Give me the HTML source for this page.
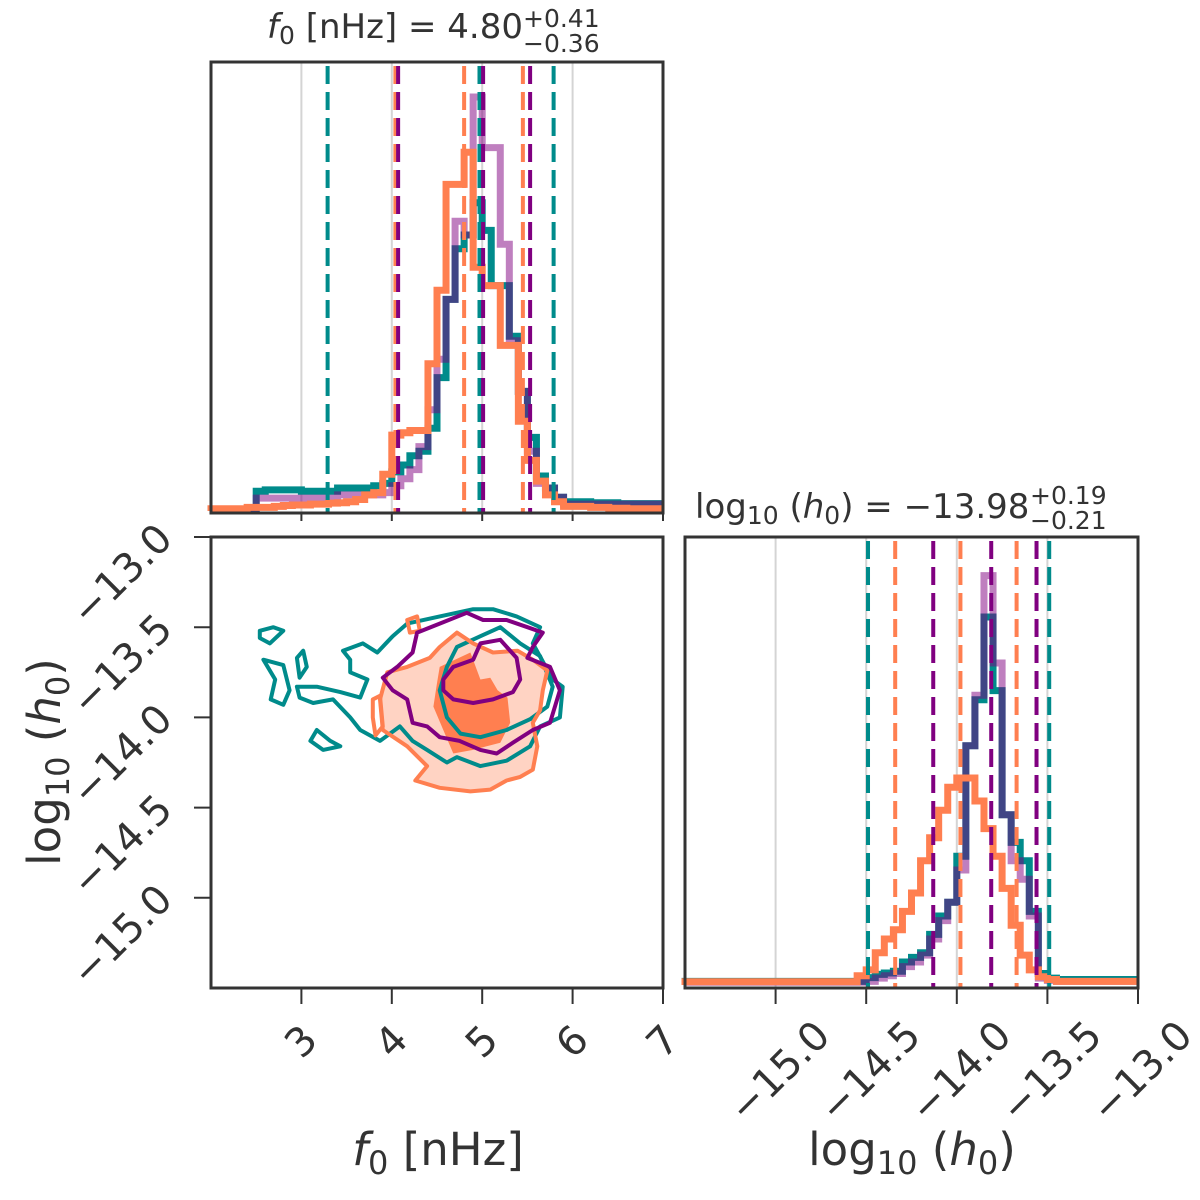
<!DOCTYPE html>
<html><head><meta charset="utf-8"><style>
html,body{margin:0;padding:0;background:#fff;}
svg{display:block;font-family:"DejaVu Sans","Liberation Sans",sans-serif;}
</style></head><body>
<svg id="chart" width="1200" height="1200" viewBox="0 0 1200 1200" xmlns="http://www.w3.org/2000/svg">
<rect x="0" y="0" width="1200" height="1200" fill="#fff"/>
<g id="g-top"></g>
<g id="g-left"></g>
<g id="g-right"></g>
<text x="267" y="38" font-size="34" fill="#333"><tspan font-style="italic">f</tspan><tspan font-size="25" dy="6">0</tspan><tspan dy="-6"> [nHz] = 4.80</tspan></text>
<text x="523" y="27" font-size="25" fill="#333">+0.41</text>
<text x="523" y="52" font-size="25" fill="#333">−0.36</text>
<text x="695" y="518" font-size="34" fill="#333">log<tspan font-size="25" dy="6">10</tspan><tspan dy="-6"> (</tspan><tspan font-style="italic">h</tspan><tspan font-size="25" dy="6">0</tspan><tspan dy="-6">) = −13.98</tspan></text>
<text x="1030" y="504" font-size="25" fill="#333">+0.19</text>
<text x="1030" y="529" font-size="25" fill="#333">−0.21</text>
<text x="438" y="1165" font-size="45" fill="#333" text-anchor="middle"><tspan font-style="italic">f</tspan><tspan font-size="32" dy="9">0</tspan><tspan dy="-9"> [nHz]</tspan></text>
<text x="912" y="1165" font-size="45" fill="#333" text-anchor="middle">log<tspan font-size="32" dy="9">10</tspan><tspan dy="-9"> (</tspan><tspan font-style="italic">h</tspan><tspan font-size="32" dy="9">0</tspan><tspan dy="-9">)</tspan></text>
<text transform="translate(60,762) rotate(-90)" font-size="45" fill="#333" text-anchor="middle">log<tspan font-size="32" dy="9">10</tspan><tspan dy="-9"> (</tspan><tspan font-style="italic">h</tspan><tspan font-size="32" dy="9">0</tspan><tspan dy="-9">)</tspan></text>
</svg>
<script>
// ---------- data ----------
const f0Ticks = [3,4,5,6,7];
const h0Ticks = [-15.0,-14.5,-14.0,-13.5,-13.0];
const h0TickLabels = ["−15.0","−14.5","−14.0","−13.5","−13.0"];
const f0BinStart = 2, f0BinWidth = 0.1;
const h0BinStart = -15.5, h0BinWidth = 0.05;
const f0HistTeal = [0.3,0.3,0.3,0.3,0.3,4.3,4.6,4.6,4.6,4.6,4.3,4.3,4.3,4.3,5,5,5,5,5.5,6,8.5,10,12,13,18,29,46,57,60,67,61,49,49,38,26,16,7.6,5,3,2,2,2,1.8,1.8,1.8,1.6,1.6,1.6,1.6,1.6];
const f0HistPurple = [0.2,0.2,0.2,0.2,0.2,2.8,2.8,2.8,2.8,2.8,2.8,2.8,2.8,2.8,3.5,3.5,3.5,3.5,3.5,4,5.5,7,9,14,22,33,46,63,60,90,79,79,58,37,26,13,6,5,3,1.5,1.5,1.5,1.5,1.5,1.5,1.5,1.5,1.5,1.5,1.5];
const f0HistOrange = [0.5,0.5,0.5,0.5,0.8,0.8,0.8,1,1.2,1.3,1.3,1.5,1.5,1.7,1.8,2,2.5,3.5,4,8,16.5,17,17.5,17.5,32,48,71,71,78,53,49,49,36,36,19.5,11,6.5,3.5,2,1,1,1,0.8,0.8,0.6,0.6,0.5,0.5,0.5,0.5];
const h0HistTeal = [0.8,0.8,0.8,0.8,0.8,0.8,0.8,0.8,0.8,0.8,0.8,0.8,0.8,0.8,0.8,0.8,0.8,0.8,0.8,0.8,1.6,2.3,2.6,3,5,6,7,11,15,18,28,52,62,80,64,37,31,27,16,2.5,1.5,1.2,1.2,1.2,1.2,1.2,1.2,1.2,1.2,1.2];
const h0HistPurple = [0.6,0.6,0.6,0.6,0.6,0.6,0.6,0.6,0.6,0.6,0.6,0.6,0.6,0.6,0.6,0.6,0.6,0.6,0.6,0.6,0.8,1.5,2,2.5,4,5,6.5,10,14,18,25,52,63,89,70,37,27,23,15,1.5,1,0.8,0.8,0.8,0.8,0.8,0.8,0.8,0.8,0.8];
const h0HistOrange = [0.7,0.7,0.7,0.7,0.7,0.7,0.7,0.7,0.7,0.7,0.7,0.7,0.7,0.7,0.7,0.7,0.7,0.7,0.7,2,3.3,7,10,12,16,20,27,32,38,43,45,45,40,34,28,21,13,6.5,3.3,1.8,1.2,0.8,0.8,0.8,0.8,0.8,0.8,0.8,0.8,0.8];
const f0QuantTeal = [3.29,4.97,5.79];
const f0QuantPurple = [4.07,5.01,5.53];
const f0QuantOrange = [4.04,4.80,5.45];
const h0QuantTeal = [-14.49,-13.49];
const h0QuantPurple = [-14.13,-13.81,-13.56];
const h0QuantOrange = [-14.34,-13.98,-13.67];
// contours [f0, log10h0]
const tealMain = [[3.46,-13.63],[3.68,-13.59],[3.84,-13.64],[4.01,-13.55],[4.17,-13.48],[4.53,-13.44],[4.90,-13.40],[5.12,-13.40],[5.38,-13.44],[5.64,-13.50],[5.56,-13.59],[5.78,-13.79],[5.89,-13.83],[5.86,-14.00],[5.64,-14.05],[5.53,-14.16],[5.27,-14.24],[4.98,-14.27],[4.72,-14.22],[4.61,-14.25],[4.39,-14.18],[4.23,-14.13],[4.09,-14.05],[3.87,-14.13],[3.65,-14.07],[3.54,-14.00],[3.35,-13.90],[3.13,-13.92],[2.98,-13.89],[2.95,-13.83],[3.17,-13.83],[3.43,-13.86],[3.65,-13.89],[3.73,-13.79],[3.54,-13.75],[3.54,-13.68]];
const tealInner = [[4.72,-13.61],[4.98,-13.55],[5.20,-13.50],[5.42,-13.59],[5.64,-13.66],[5.78,-13.83],[5.72,-13.94],[5.53,-14.01],[5.27,-14.07],[4.98,-14.11],[4.76,-14.09],[4.61,-14.00],[4.53,-13.85],[4.61,-13.72]];
const tealIsland1 = [[2.54,-13.52],[2.69,-13.50],[2.80,-13.52],[2.65,-13.59],[2.54,-13.56]];
const tealIsland2 = [[2.58,-13.68],[2.80,-13.71],[2.87,-13.85],[2.80,-13.93],[2.66,-13.90],[2.71,-13.79]];
const tealIsland3 = [[2.95,-13.67],[3.02,-13.63],[3.06,-13.72],[2.98,-13.78]];
const tealIsland4 = [[3.17,-14.07],[3.32,-14.13],[3.43,-14.16],[3.24,-14.18],[3.10,-14.13]];
const purpleOuter = [[3.90,-13.78],[4.06,-13.72],[4.23,-13.64],[4.28,-13.53],[4.53,-13.48],[4.83,-13.42],[5.01,-13.46],[5.27,-13.46],[5.50,-13.50],[5.67,-13.53],[5.56,-13.61],[5.50,-13.67],[5.75,-13.72],[5.86,-13.85],[5.75,-14.03],[5.56,-14.07],[5.34,-14.14],[5.16,-14.20],[4.98,-14.18],[4.75,-14.13],[4.53,-14.11],[4.39,-14.05],[4.23,-14.03],[4.17,-13.90],[4.01,-13.85]];
const purpleInner = [[4.57,-13.79],[4.68,-13.72],[4.90,-13.68],[4.98,-13.59],[5.20,-13.57],[5.38,-13.67],[5.42,-13.79],[5.34,-13.86],[5.12,-13.90],[4.90,-13.92],[4.68,-13.90],[4.57,-13.85]];
const orangeOuter = [[4.72,-13.53],[4.90,-13.59],[5.12,-13.64],[5.39,-13.63],[5.56,-13.68],[5.72,-13.74],[5.67,-13.85],[5.64,-13.96],[5.56,-14.03],[5.61,-14.16],[5.56,-14.29],[5.42,-14.33],[5.27,-14.35],[5.09,-14.40],[4.87,-14.41],[4.53,-14.39],[4.26,-14.35],[4.39,-14.27],[4.17,-14.16],[3.90,-14.07],[3.87,-13.90],[3.95,-13.75],[4.17,-13.72],[4.42,-13.67],[4.53,-13.61]];
const orangeCore = [[4.53,-13.72],[4.87,-13.64],[4.98,-13.79],[5.09,-13.78],[5.17,-13.85],[5.28,-13.89],[5.31,-14.03],[5.20,-14.14],[5.05,-14.16],[4.90,-14.18],[4.68,-14.20],[4.57,-14.07],[4.46,-13.94],[4.50,-13.81]];
const orangeIsland1 = [[4.17,-13.46],[4.28,-13.44],[4.31,-13.52],[4.20,-13.53]];
const orangeIsland2 = [[3.79,-13.90],[3.87,-13.88],[3.90,-14.05],[3.82,-14.10],[3.79,-14.00]];

// ---------- layout ----------
const NS = "http://www.w3.org/2000/svg";
const TEAL="#008b8b", PURPLE="#800080", ORANGE="#ff7f50", INK="#333333";
const P = {
  top:{x0:211,x1:663,y0:62,y1:513},
  left:{x0:211,x1:663,y0:537,y1:988},
  right:{x0:685,x1:1138,y0:537,y1:988}
};
function fx(v){ return P.left.x0 + (v-2)/5*(P.left.x1-P.left.x0); }
function hx(v){ return P.right.x0 + (v+15.5)/2.5*(P.right.x1-P.right.x0); }
function hy(v){ return P.left.y0 + (-13-v)/2.5*(P.left.y1-P.left.y0); }
function topY(v){ return 511 - v*4.6; }
function rightY(v){ return 985 - v*4.6; }

function mk(parent, tag, attrs){
  const e = document.createElementNS(NS, tag);
  for (const k in attrs) e.setAttribute(k, attrs[k]);
  parent.appendChild(e);
  return e;
}
const gTop = document.getElementById('g-top');
const gLeft = document.getElementById('g-left');
const gRight = document.getElementById('g-right');

function grid(g, xs, y0, y1){
  xs.forEach(x=>{
    const l = mk(g,'line',{x1:x,x2:x,y1:y0,y2:y1,stroke:'#d4d4d4','stroke-width':2});
    
    
  });
}
grid(gTop, [3,4,5,6].map(fx), P.top.y0, P.top.y1);
grid(gRight, [-15,-14.5,-14,-13.5].map(hx), P.right.y0, P.right.y1);

function hist(g, vals, start, w, xf, yf, base, color, op, name){
  let d = `M${xf(start)},${base}`;
  vals.forEach((v,i)=>{
    const a = xf(start+i*w), b = xf(start+(i+1)*w), y = yf(v);
    d += ` L${a},${y} L${b},${y}`;
  });
  const p = mk(g,'path',{d:d,fill:'none',stroke:color,'stroke-width':7,'stroke-opacity':op,'stroke-linejoin':'miter'});
  
  
}
function qlines(g, vals, xf, y0, y1, color, name){
  vals.forEach(v=>{
    const x = xf(v);
    const l = mk(g,'line',{x1:x,x2:x,y1:y0,y2:y1,stroke:color,'stroke-width':4,'stroke-dasharray':'18 8'});
    
    
  });
}
// top panel
hist(gTop, f0HistTeal, f0BinStart, f0BinWidth, fx, topY, 511, TEAL, 1, 'f0-hist-teal');
hist(gTop, f0HistPurple, f0BinStart, f0BinWidth, fx, topY, 511, PURPLE, 0.5, 'f0-hist-purple');
hist(gTop, f0HistOrange, f0BinStart, f0BinWidth, fx, topY, 511, ORANGE, 1, 'f0-hist-orange');
qlines(gTop, f0QuantTeal, fx, P.top.y0+4, P.top.y1, TEAL, 'f0-quantile-teal');
qlines(gTop, f0QuantOrange, fx, P.top.y0+4, P.top.y1, ORANGE, 'f0-quantile-orange');
qlines(gTop, f0QuantPurple, fx, P.top.y0+4, P.top.y1, PURPLE, 'f0-quantile-purple');
// right panel
hist(gRight, h0HistTeal, h0BinStart, h0BinWidth, hx, rightY, 985, TEAL, 1, 'h0-hist-teal');
hist(gRight, h0HistPurple, h0BinStart, h0BinWidth, hx, rightY, 985, PURPLE, 0.5, 'h0-hist-purple');
hist(gRight, h0HistOrange, h0BinStart, h0BinWidth, hx, rightY, 985, ORANGE, 1, 'h0-hist-orange');
qlines(gRight, h0QuantTeal, hx, P.right.y0+4, P.right.y1, TEAL, 'h0-quantile-teal');
qlines(gRight, h0QuantOrange, hx, P.right.y0+4, P.right.y1, ORANGE, 'h0-quantile-orange');
qlines(gRight, h0QuantPurple, hx, P.right.y0+4, P.right.y1, PURPLE, 'h0-quantile-purple');

// contours
function poly(pts, attrs, name){
  const d = pts.map((p,i)=>(i?'L':'M')+fx(p[0]).toFixed(1)+','+hy(p[1]).toFixed(1)).join(' ')+' Z';
  const e = mk(gLeft,'path',Object.assign({d:d,'stroke-linejoin':'round'},attrs));
  
  
}
poly(orangeOuter,{fill:'#ffd3c3',stroke:'none'},'orange-contour-fill-outer');
poly(orangeCore,{fill:ORANGE,stroke:'none'},'orange-contour-fill-core');
[tealMain,tealInner,tealIsland1,tealIsland2,tealIsland3,tealIsland4].forEach(c=>poly(c,{fill:'none',stroke:TEAL,'stroke-width':4},'teal-contour'));
poly(orangeOuter,{fill:'none',stroke:ORANGE,'stroke-width':4},'orange-contour-outer');
poly(orangeIsland1,{fill:'none',stroke:ORANGE,'stroke-width':4},'orange-contour-island');
poly(orangeIsland2,{fill:'none',stroke:ORANGE,'stroke-width':4},'orange-contour-island');
[purpleOuter,purpleInner].forEach(c=>poly(c,{fill:'none',stroke:PURPLE,'stroke-width':4},'purple-contour'));

// frames & ticks
function frame(g, p, name){
  const r = mk(g,'rect',{x:p.x0,y:p.y0,width:p.x1-p.x0,height:p.y1-p.y0,fill:'none',stroke:INK,'stroke-width':3});
  
  
}
frame(gTop,P.top,'f0-hist-frame');
frame(gLeft,P.left,'contour-frame');
frame(gRight,P.right,'h0-hist-frame');
function xticks(g, ticks, xf, y, len){
  ticks.forEach(t=>{
    const l = mk(g,'line',{x1:xf(t),x2:xf(t),y1:y,y2:y+len,stroke:INK,'stroke-width':2});
    
    
  });
}
xticks(gTop, f0Ticks, fx, P.top.y1, 8);
xticks(gLeft, f0Ticks, fx, P.left.y1, 16);
xticks(gRight, h0Ticks, hx, P.right.y1, 16);
h0Ticks.forEach(t=>{
  const l = mk(gLeft,'line',{x1:P.left.x0-17,x2:P.left.x0,y1:hy(t),y2:hy(t),stroke:INK,'stroke-width':2});
  
  
});
// tick labels
f0Ticks.forEach(t=>{
  const tx = mk(gLeft,'text',{transform:`translate(${fx(t)},1042) rotate(-45)`,'font-size':40,fill:INK,'text-anchor':'middle','dominant-baseline':'central'});
  tx.textContent = String(t);
  
  
});
h0Ticks.forEach((t,i)=>{
  const tx = mk(gRight,'text',{transform:`translate(${hx(t)+4},1072) rotate(-45)`,'font-size':40,fill:INK,'text-anchor':'middle','dominant-baseline':'central'});
  tx.textContent = h0TickLabels[i];
  
  
  const ty = mk(gLeft,'text',{transform:`translate(122,${hy(t)+38}) rotate(-45)`,'font-size':40,fill:INK,'text-anchor':'middle','dominant-baseline':'central'});
  ty.textContent = h0TickLabels[i];
  
  
});
</script>
</body></html>
